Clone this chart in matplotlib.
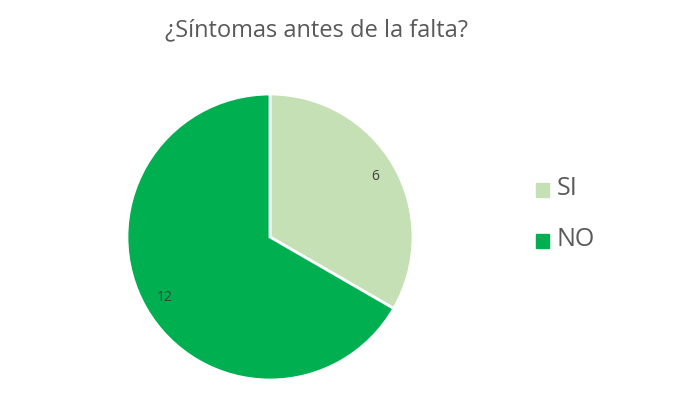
import matplotlib.pyplot as plt

categories = ["SI", "NO"]
values = [6, 12]
colors = ["#C5E0B4", "#00B050"]
title = "¿Síntomas antes de la falta?"

plt.rcParams['font.family'] = ['Open Sans', 'DejaVu Sans']

fig = plt.figure(figsize=(6.74, 4.0), dpi=100)
ax = fig.add_axes([0.1884, 0.05, 0.4243, 0.715])

wedges, texts, autotexts = ax.pie(
    values, colors=colors, startangle=90, counterclock=False,
    autopct=lambda p: "%d" % round(p * sum(values) / 100.0),
    pctdistance=0.85,
    wedgeprops=dict(edgecolor="white", linewidth=2),
    textprops=dict(color="#404040", fontsize=10),
)
ax.set_xlim(-1, 1)
ax.set_ylim(-1, 1)
ax.set_aspect("equal")

fig.text(0.47, 0.925, title, ha="center", va="center", fontsize=17, color="#595959")

# legend built by hand to match spacing
for i, (cat, col) in enumerate(zip(categories, colors)):
    y = 0.528 - i * 0.128
    fig.patches.append(plt.Rectangle((0.795, y - 0.02), 0.02, 0.034, color=col,
                                     transform=fig.transFigure, figure=fig))
    fig.text(0.826, y, cat, ha="left", va="center", fontsize=18, color="#595959")

fig.savefig("out.png", dpi=100)
